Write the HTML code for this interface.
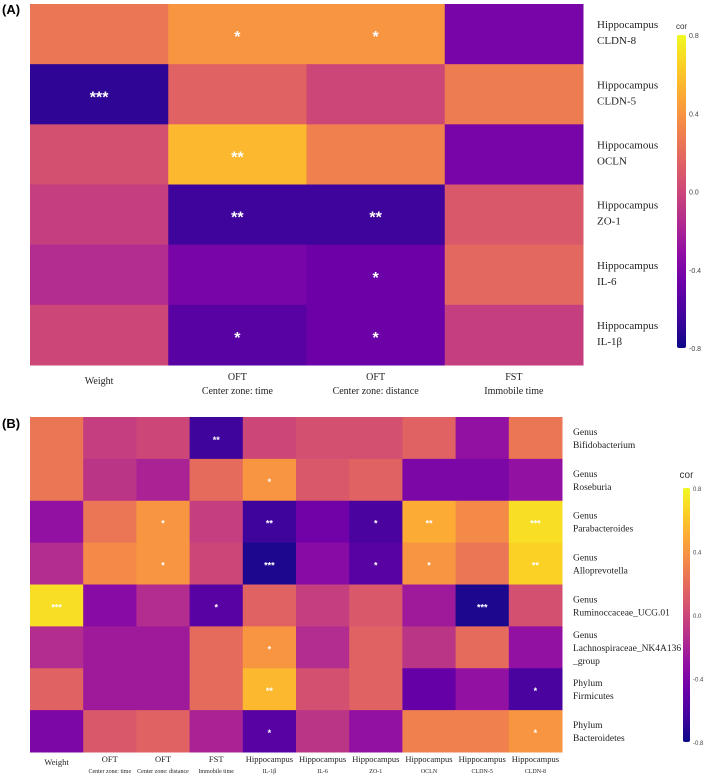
<!DOCTYPE html>
<html><head><meta charset="utf-8"><style>
body{margin:0;background:#fff;}
svg{display:block;}
</style></head><body>
<svg id="chart" width="709" height="783" xmlns="http://www.w3.org/2000/svg">
<defs>
<linearGradient id="plasma" x1="0" y1="1" x2="0" y2="0">
<stop offset="0" stop-color="#0d0887"/><stop offset="0.1" stop-color="#41049d"/><stop offset="0.2" stop-color="#6a00a8"/><stop offset="0.3" stop-color="#8f0da4"/><stop offset="0.4" stop-color="#b12a90"/><stop offset="0.5" stop-color="#cc4778"/><stop offset="0.6" stop-color="#e16462"/><stop offset="0.7" stop-color="#f2844b"/><stop offset="0.8" stop-color="#fca636"/><stop offset="0.9" stop-color="#fcce25"/><stop offset="1" stop-color="#f0f921"/>
</linearGradient>
</defs>
<text x="2" y="14" font-family="Liberation Sans, sans-serif" font-weight="bold" font-size="13">(A)</text>
<text x="2" y="428" font-family="Liberation Sans, sans-serif" font-weight="bold" font-size="13">(B)</text>
<g id="pa"></g>
<g id="pb"></g>
</svg>
<script>
const aCols = [["Weight"],["OFT","Center zone: time"],["OFT","Center zone: distance"],["FST","Immobile time"]];
const aRows = [["Hippocampus","CLDN-8"],["Hippocampus","CLDN-5"],["Hippocamous","OCLN"],["Hippocampus","ZO-1"],["Hippocampus","IL-6"],["Hippocampus","IL-1β"]];
const aVals = [
 [0.25,0.4,0.4,-0.42],
 [-0.7,0.15,0.0,0.28],
 [0.05,0.55,0.3,-0.42],
 [-0.05,-0.65,-0.65,0.1],
 [-0.15,-0.42,-0.47,0.18],
 [0.0,-0.55,-0.47,-0.05]];
const aSig = [
 ["","*","*",""],["***","","",""],["","**","",""],["","**","**",""],["","","*",""],["","*","*",""]];
const bCols = [["Weight"],["OFT","Center zone: time"],["OFT","Center zone: distance"],["FST","Immobile time"],["Hippocampus","IL-1β"],["Hippocampus","IL-6"],["Hippocampus","ZO-1"],["Hippocampus","OCLN"],["Hippocampus","CLDN-5"],["Hippocampus","CLDN-8"]];
const bRows = [["Genus","Bifidobacterium"],["Genus","Roseburia"],["Genus","Parabacteroides"],["Genus","Alloprevotella"],["Genus","Ruminoccaceae_UCG.01"],["Genus","Lachnospiraceae_NK4A136","_group"],["Phylum","Firmicutes"],["Phylum","Bacteroidetes"]];
const bVals = [
 [0.25,-0.05,0.0,-0.65,0.0,0.05,0.05,0.15,-0.3,0.25],
 [0.25,-0.1,-0.2,0.2,0.4,0.1,0.15,-0.4,-0.4,-0.3],
 [-0.3,0.25,0.4,-0.05,-0.65,-0.45,-0.6,0.5,0.35,0.7],
 [-0.15,0.35,0.4,0.0,-0.75,-0.35,-0.55,0.4,0.25,0.65],
 [0.7,-0.35,-0.15,-0.55,0.15,-0.05,0.1,-0.25,-0.75,0.05],
 [-0.15,-0.25,-0.25,0.2,0.4,-0.15,0.15,-0.1,0.2,-0.3],
 [0.15,-0.25,-0.25,0.2,0.55,0.05,0.15,-0.5,-0.3,-0.6],
 [-0.4,0.1,0.15,-0.2,-0.55,-0.1,-0.3,0.3,0.3,0.4]];
const bSig = [
 ["","","","**","","","","","",""],
 ["","","","","*","","","","",""],
 ["","","*","","**","","*","**","","***"],
 ["","","*","","***","","*","*","","**"],
 ["***","","","*","","","","","***",""],
 ["","","","","*","","","","",""],
 ["","","","","**","","","","","*"],
 ["","","","","*","","","","","*"]];
const cbTicks = ["0.8","0.4","0.0","-0.4","-0.8"];

const NS="http://www.w3.org/2000/svg";
const stops=["#0d0887","#41049d","#6a00a8","#8f0da4","#b12a90","#cc4778","#e16462","#f2844b","#fca636","#fcce25","#f0f921"];
function hex(h){return [1,3,5].map(i=>parseInt(h.substr(i,2),16));}
function color(v){let t=Math.max(0,Math.min(1,(v+0.8)/1.6))*10;let i=Math.min(9,Math.floor(t));let f=t-i;
 const a=hex(stops[i]),b=hex(stops[i+1]);return "rgb("+a.map((x,k)=>Math.round(x+(b[k]-x)*f)).join(",")+")";}
function mk(tag,attrs,parent){const e=document.createElementNS(NS,tag);for(const k in attrs)e.setAttribute(k,attrs[k]);parent.appendChild(e);return e;}

function panel(g,cfg){
 const {x0,y0,w,h,cols,rows,vals,sig}=cfg;
 const cw=w/cols.length, rh=h/rows.length;
 const xs=j=>x0+j*cw, ys=i=>y0+i*rh;
 vals.forEach((row,i)=>row.forEach((v,j)=>{
  const r=mk("rect",{x:xs(j),y:ys(i),width:cw+0.5,height:rh+0.5,fill:color(v)},g);
  
  
  if(sig[i][j]){const t=mk("text",{x:xs(j)+cw/2,y:ys(i)+rh/2+cfg.starDy,"text-anchor":"middle",fill:"#fff","font-family":"Liberation Sans, sans-serif","font-size":cfg.starSize,"font-weight":"bold"},g);t.textContent=sig[i][j];
   
   }
 }));
 rows.forEach((lab,i)=>{const n=lab.length;lab.forEach((s,k)=>{
  const t=mk("text",{x:cfg.rlx,y:ys(i)+rh/2+cfg.rlFirst+k*cfg.rlGap-(n-2)*cfg.rlGap/2,"font-family":"Liberation Serif, serif","font-size":cfg.rlSize,fill:"#222"},g);t.textContent=s;
  
  });});
 cols.forEach((lab,j)=>{lab.forEach((s,k)=>{
  const t=mk("text",{x:xs(j)+cw/2,y:lab.length==1?cfg.clY1:(k==0?cfg.clY:cfg.clY2),"text-anchor":"middle","font-family":"Liberation Serif, serif","font-size":(k==0?cfg.clSize:cfg.cl2Size),fill:"#222"},g);t.textContent=s;
  
  });});
 const cb=cfg.cb;
 const bar=mk("rect",{x:cb.x,y:cb.top,width:cb.w,height:cb.bot-cb.top,fill:"url(#plasma)",rx:2},g);
 
 
 const ct=mk("text",{x:cb.x+cb.w/2,y:cb.top-cb.titleDy,"text-anchor":"middle","font-family":"Liberation Sans, sans-serif","font-size":cb.titleSize,fill:"#333"},g);ct.textContent="cor";
 
 
 cbTicks.forEach((s,k)=>{const y=cb.top+k*(cb.bot-cb.top)/(cbTicks.length-1);
  const t=mk("text",{x:cb.x+cb.w+3,y:y+3,"font-family":"Liberation Sans, sans-serif","font-size":cb.tickSize,fill:"#444"},g);t.textContent=s;
  
  });
}
panel(document.getElementById('pa'),{x0:30,y0:4,w:553,h:361,cols:aCols,rows:aRows,vals:aVals,sig:aSig,starSize:16,starDy:8,
 rlx:597,rlFirst:-6,rlGap:16,rlSize:11,clY1:384,clY:380,clY2:394,clSize:10,cl2Size:10,
 cb:{x:677,w:9,top:35,bot:348,titleDy:6,titleSize:8,tickSize:7}});
panel(document.getElementById('pb'),{x0:30,y0:417,w:532,h:335,cols:bCols,rows:bRows,vals:bVals,sig:bSig,starSize:9,starDy:5,
 rlx:573,rlFirst:-3,rlGap:13,rlSize:9.5,clY1:765,clY:762,clY2:773,clSize:8.5,cl2Size:6,
 cb:{x:683,w:7,top:488,bot:742,titleDy:10,titleSize:10,tickSize:6}});
</script>
</body></html>
